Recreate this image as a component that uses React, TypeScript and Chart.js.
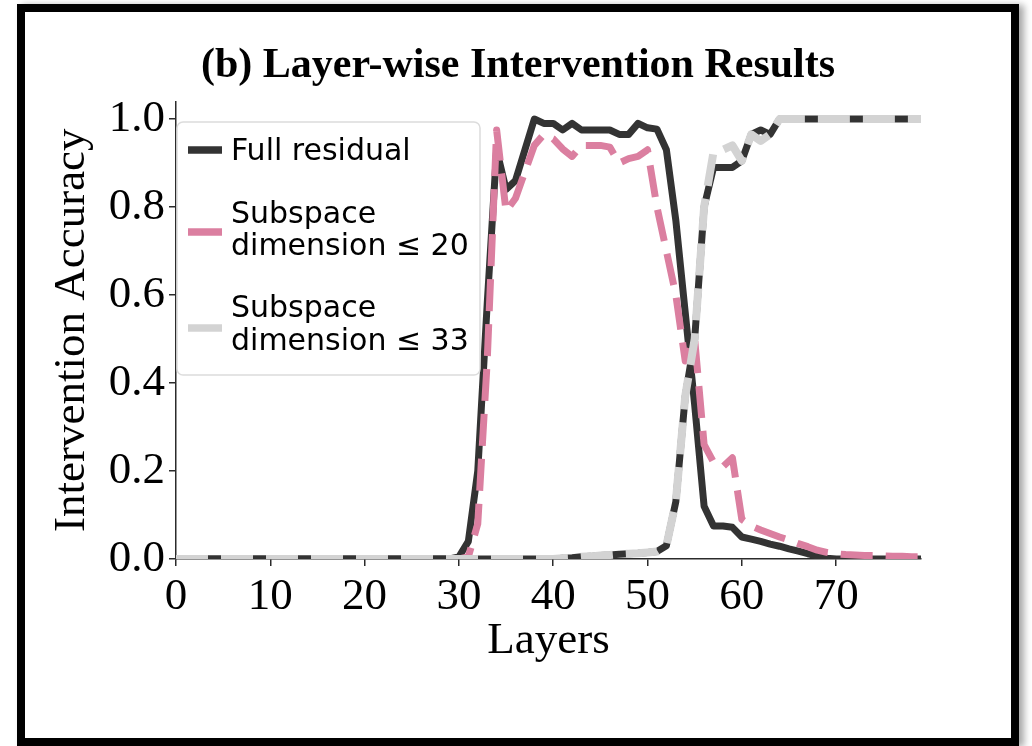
import React, { useEffect, useRef } from 'react';
import { Chart, registerables } from 'chart.js';

Chart.register(...registerables);

// ---------------- data ----------------
const layers: number[] = Array.from({ length: 80 }, (_, i) => i);
const xTicks = [0, 10, 20, 30, 40, 50, 60, 70];
const yTicks = [0, 0.2, 0.4, 0.6, 0.8, 1.0];

// Full residual, first intervened variable (rises ~31, falls ~55)
const fullResidualA = [
  0, 0, 0, 0, 0, 0, 0, 0, 0, 0,
  0, 0, 0, 0, 0, 0, 0, 0, 0, 0,
  0, 0, 0, 0, 0, 0, 0, 0, 0, 0,
  0.005, 0.04, 0.2, 0.58, 0.93, 0.84, 0.86, 0.93, 1.0, 0.99,
  0.99, 0.975, 0.99, 0.975, 0.975, 0.975, 0.975, 0.965, 0.965, 0.99,
  0.98, 0.977, 0.93, 0.77, 0.56, 0.35, 0.12, 0.075, 0.075, 0.072,
  0.05, 0.045, 0.04, 0.034, 0.029, 0.023, 0.018, 0.012, 0.007, 0.002,
  0, 0, 0, 0, 0, 0, 0, 0, 0, 0,
];

// Full residual, second intervened variable (rises ~53-64)
const fullResidualB = [
  0, 0, 0, 0, 0, 0, 0, 0, 0, 0,
  0, 0, 0, 0, 0, 0, 0, 0, 0, 0,
  0, 0, 0, 0, 0, 0, 0, 0, 0, 0,
  0, 0, 0, 0, 0, 0, 0, 0, 0, 0,
  0, 0.002, 0.003, 0.005, 0.006, 0.008, 0.009, 0.011, 0.012, 0.013,
  0.015, 0.017, 0.03, 0.13, 0.37, 0.5, 0.8, 0.89, 0.89, 0.89,
  0.905, 0.965, 0.975, 0.965, 1.0, 1.0, 1.0, 1.0, 1.0, 1.0,
  1.0, 1.0, 1.0, 1.0, 1.0, 1.0, 1.0, 1.0, 1.0, 1.0,
];

// Subspace dimension <= 20
const subspace20 = [
  0, 0, 0, 0, 0, 0, 0, 0, 0, 0,
  0, 0, 0, 0, 0, 0, 0, 0, 0, 0,
  0, 0, 0, 0, 0, 0, 0, 0, 0, 0,
  0, 0.005, 0.08, 0.45, 0.975, 0.79, 0.82, 0.88, 0.94, 0.965,
  0.955, 0.932, 0.915, 0.94, 0.94, 0.94, 0.936, 0.9, 0.91, 0.915,
  0.93, 0.8, 0.7, 0.6, 0.45, 0.5, 0.26, 0.22, 0.21, 0.23,
  0.09, 0.075, 0.066, 0.058, 0.05, 0.043, 0.035, 0.028, 0.02, 0.015,
  0.012, 0.01, 0.009, 0.008, 0.008, 0.007, 0.006, 0.006, 0.005, 0.005,
];

// Subspace dimension <= 33
const subspace33 = [
  0, 0, 0, 0, 0, 0, 0, 0, 0, 0,
  0, 0, 0, 0, 0, 0, 0, 0, 0, 0,
  0, 0, 0, 0, 0, 0, 0, 0, 0, 0,
  0, 0, 0, 0, 0, 0, 0, 0, 0, 0,
  0, 0.002, 0.003, 0.005, 0.006, 0.008, 0.009, 0.011, 0.012, 0.013,
  0.015, 0.017, 0.03, 0.13, 0.37, 0.5, 0.8, 0.925, 0.93, 0.94,
  0.905, 0.965, 0.95, 0.965, 1.0, 1.0, 1.0, 1.0, 1.0, 1.0,
  1.0, 1.0, 1.0, 1.0, 1.0, 1.0, 1.0, 1.0, 1.0, 1.0,
];

const legendLabels: string[][] = [
  ['Full residual'],
  ['Subspace', 'dimension ≤ 20'],
  ['Subspace', 'dimension ≤ 33'],
];

// ---------------- styles ----------------
const BLACK = '#333333';
const PINK = '#db7fa0';
const GREY = '#d3d3d3';
const AXIS = '#2b2b2b';
const SERIF = "'Liberation Serif', 'Times New Roman', serif";
const SANS = "'DejaVu Sans', sans-serif";
const legendColors = [BLACK, PINK, GREY];

const toXY = (arr: number[]) => arr.map((y, i) => ({ x: layers[i], y }));

const legendPlugin = {
  id: 'mplLegend',
  afterDraw(chart: any) {
    const { ctx, chartArea } = chart;
    const bx = chartArea.left + 1;
    const by = chartArea.top + 20.6;
    const bw = 303;
    const bh = 253;
    const sampleY = [28, 110, 206];
    const textY = [[30], [93, 125], [187, 220]];
    ctx.save();
    ctx.beginPath();
    if (ctx.roundRect) ctx.roundRect(bx, by, bw, bh, 6);
    else ctx.rect(bx, by, bw, bh);
    ctx.fillStyle = 'rgba(255,255,255,0.85)';
    ctx.fill();
    ctx.strokeStyle = '#dcdcdc';
    ctx.lineWidth = 1.5;
    ctx.stroke();
    ctx.font = `30px ${SANS}`;
    ctx.fillStyle = '#000';
    ctx.textBaseline = 'middle';
    ctx.textAlign = 'left';
    legendLabels.forEach((lines, i) => {
      ctx.beginPath();
      ctx.strokeStyle = legendColors[i];
      ctx.lineWidth = 7.5;
      ctx.lineCap = 'butt';
      ctx.moveTo(bx + 11, by + sampleY[i]);
      ctx.lineTo(bx + 45, by + sampleY[i]);
      ctx.stroke();
      lines.forEach((t, j) => ctx.fillText(t, bx + 54, by + textY[i][j]));
    });
    ctx.restore();
  },
};

export default function App() {
  const canvasRef = useRef<HTMLCanvasElement | null>(null);

  useEffect(() => {
    if (!canvasRef.current) return;
    const common = {
      pointRadius: 0,
      pointHoverRadius: 0,
      tension: 0,
      fill: false,
      borderJoinStyle: 'round' as const,
      clip: 0,
    };
    const chart = new Chart(canvasRef.current, {
      type: 'line',
      data: {
        datasets: [
          {
            ...common,
            label: 'Full residual',
            data: toXY(fullResidualA),
            borderColor: BLACK,
            borderWidth: 7,
            borderCapStyle: 'round',
            order: 3,
          },
          {
            ...common,
            label: 'Full residual (2)',
            data: toXY(fullResidualB),
            borderColor: BLACK,
            borderWidth: 7,
            borderCapStyle: 'round',
            order: 2,
          },
          {
            ...common,
            label: 'Subspace dimension ≤ 20',
            data: toXY(subspace20),
            borderColor: PINK,
            borderWidth: 7,
            borderDash: [32, 13],
            borderCapStyle: 'butt',
            order: 1,
          },
          {
            ...common,
            label: 'Subspace dimension ≤ 33',
            data: toXY(subspace33),
            borderColor: GREY,
            borderWidth: 8,
            borderDash: [32, 13],
            borderCapStyle: 'butt',
            order: 0,
          },
        ],
      },
      options: {
        animation: false,
        responsive: false,
        devicePixelRatio: 1,
        layout: { padding: { left: 0, right: 0, top: 0, bottom: 70 } },
        plugins: {
          legend: { display: false },
          tooltip: { enabled: false },
          title: {
            display: true,
            text: '(b) Layer-wise Intervention Results',
            color: '#000',
            font: { family: SERIF, size: 42, weight: 'bold' },
            padding: { top: 28.6, bottom: 10.4 },
          },
        },
        scales: {
          x: {
            type: 'linear',
            min: 0,
            max: 79,
            afterBuildTicks: (s: any) => {
              s.ticks = xTicks.map((v) => ({ value: v }));
            },
            afterFit: (s: any) => {
              s.height = 109;
            },
            grid: { drawOnChartArea: false, drawTicks: true, tickLength: 7, color: AXIS, lineWidth: 1.5 },
            border: { display: true, color: AXIS, width: 1.5 },
            ticks: {
              color: '#000',
              font: { family: SERIF, size: 45 },
              padding: 4,
              maxRotation: 0,
              autoSkip: false,
              callback: (v: any) => String(v),
            },
            title: {
              display: true,
              text: 'Layers',
              color: '#000',
              font: { family: SERIF, size: 45 },
              padding: { top: 0, bottom: 0 },
            },
          },
          y: {
            type: 'linear',
            position: 'left',
            min: 0,
            max: 1.04,
            afterBuildTicks: (s: any) => {
              s.ticks = yTicks.map((v) => ({ value: v }));
            },
            afterFit: (s: any) => {
              s.width = 151;
            },
            grid: { drawOnChartArea: false, drawTicks: true, tickLength: 7, color: AXIS, lineWidth: 1.5 },
            border: { display: true, color: AXIS, width: 1.5 },
            ticks: {
              color: '#000',
              font: { family: SERIF, size: 45 },
              padding: 4,
              callback: (v: any) => Number(v).toFixed(1),
            },
            title: {
              display: true,
              text: 'Intervention Accuracy',
              color: '#000',
              font: { family: SERIF, size: 45 },
              padding: { top: 20, bottom: 0 },
            },
          },
          yRight: {
            type: 'linear',
            position: 'right',
            display: true,
            afterFit: (s: any) => {
              s.width = 90;
            },
            grid: { display: false, drawTicks: false },
            border: { display: false },
            ticks: { display: false },
          },
        },
      } as any,
      plugins: [legendPlugin],
    });
    return () => chart.destroy();
  }, []);

  return (
    <div
      style={{
        position: 'absolute',
        left: 17,
        top: 4,
        width: 986,
        height: 726,
        border: '8px solid #000',
        background: '#fff',
        boxShadow: '5px 1px 7px rgba(0,0,0,0.35)',
      }}
    >
      <canvas ref={canvasRef} width={986} height={726} style={{ display: 'block' }} />
    </div>
  );
}
